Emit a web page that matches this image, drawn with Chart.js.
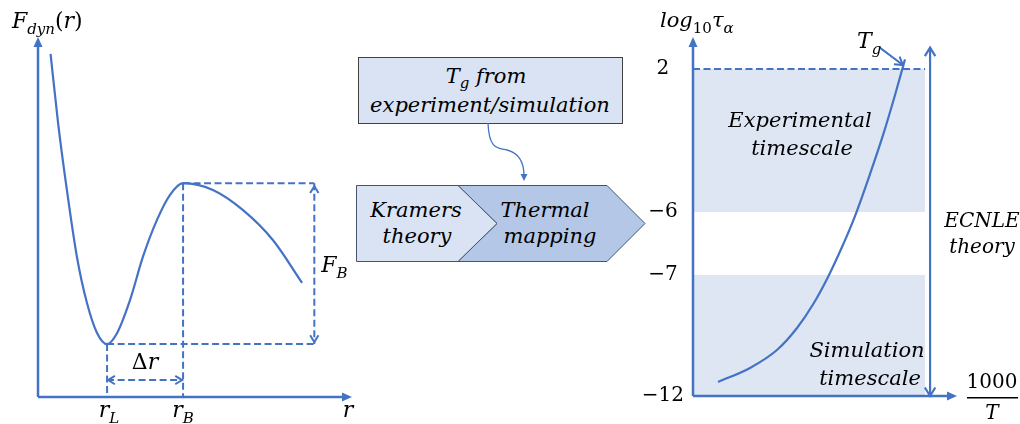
<!DOCTYPE html>
<html>
<head>
<meta charset="utf-8">
<script src="https://cdn.jsdelivr.net/npm/chart.js@4.4.1/dist/chart.umd.min.js"></script>
<style>
  html, body { margin: 0; padding: 0; background: #fff; }
  #wrap { position: relative; width: 1020px; height: 424px; overflow: hidden; }
  #wrap canvas, #wrap svg { position: absolute; top: 0; }
</style>
</head>
<body>
<div id="wrap">
  <svg width="1020" height="424" style="left:0" font-family="DejaVu Serif" font-style="italic" font-size="21">
    <!-- T_g source box -->
    <rect x="358.5" y="57.5" width="264" height="66" fill="#DAE3F3" stroke="#404040" stroke-width="1"/>
    <text x="486" y="83" text-anchor="middle">T<tspan font-size="15" dy="5">g</tspan><tspan dy="-5"> from</tspan></text>
    <text x="490" y="112" text-anchor="middle">experiment/simulation</text>
    <path d="M488,123 C489,150 498,148 507,150 C519,153 524,163 524,176" fill="none" stroke="#4472C4" stroke-width="1.3"/>
    <path d="M520.5,174 L524,181 L527.5,174 Z" fill="#4472C4"/>
    <!-- chevrons -->
    <polygon points="458,185.5 607,185.5 645,223.5 607,261.5 458,261.5 497,223.5" fill="#B4C7E7" stroke="#44546A" stroke-width="1"/>
    <polygon points="356.5,185.5 458,185.5 497,223.5 458,261.5 356.5,261.5" fill="#DAE3F3" stroke="#44546A" stroke-width="1"/>
    <text x="416" y="217" text-anchor="middle">Kramers</text>
    <text x="417" y="243" text-anchor="middle">theory</text>
    <text x="545" y="217" text-anchor="middle">Thermal</text>
    <text x="550" y="243" text-anchor="middle">mapping</text>
  </svg>
  <canvas id="left" width="360" height="424" style="left:0"></canvas>
  <canvas id="right" width="380" height="424" style="left:640px"></canvas>
</div>
<script>
// ---- left panel: dynamic free energy F_dyn(r), arbitrary units ----
const rValues = [0.40, 0.64, 0.92, 1.24, 1.56, 1.88, 2.20, 2.52, 2.93, 3.34, 3.79, 4.20, 4.62, 5.57, 6.53, 7.48, 8.41];
const fValues = [9.53, 7.61, 5.75, 3.89, 2.61, 1.78, 1.47, 1.78, 2.69, 3.89, 4.92, 5.61, 5.94, 5.75, 5.19, 4.36, 3.17];
const rL = 2.2, rB = 4.62;     // well minimum and barrier position
const fMin = 1.47, fMax = 5.94; // F at r_L and r_B
const fbArrowR = 8.8;           // where the F_B arrow sits
const drArrowF = 0.47;          // height of the delta r arrow

// ---- right panel: log10 tau_alpha vs 1000/T ----
const invT = [0.95, 2.16, 3.18, 3.94, 4.55, 5.11, 5.64, 6.14, 6.70, 7.20, 7.65, 8.03];
const logTau = [-11.42, -10.84, -10.10, -9.19, -8.21, -7.09, -6.56, -6.06, -3.90, -1.69, 0.53, 2.54];
const yTickValues = [-12, -7, -6, 2];
const yTickLabels = ['\u221212', '\u22127', '\u22126', '2'];
const logTauTop = 3.8;
const experimentalBand = [-6, 2];
const simulationBand = [-12, -7];
const bandEnd = 8.79;   // 1000/T where shading stops
const tgArrow = [[7.05, 3.23], [7.95, 2.22]];
const ecnleX = 8.98;

const BLUE = '#4472C4';
const FONT = '"DejaVu Serif"';

// schematic axis: the gaps between ticks are not to scale
class BrokenScale extends Chart.LinearScale {
  buildTicks() {
    return this.options.stopValues.slice(0, -1).map(v => ({ value: v }));
  }
  getPixelForValue(value) {
    const vals = this.options.stopValues, pos = this.options.stopPositions;
    let i = 0;
    while (i < vals.length - 2 && value > vals[i + 1]) i++;
    const t = (value - vals[i]) / (vals[i + 1] - vals[i]);
    return this.getPixelForDecimal(pos[i] + t * (pos[i + 1] - pos[i]));
  }
  getValueForPixel(pixel) {
    const vals = this.options.stopValues, pos = this.options.stopPositions;
    const d = this.getDecimalForPixel(pixel);
    let i = 0;
    while (i < pos.length - 2 && d > pos[i + 1]) i++;
    return vals[i] + (d - pos[i]) / (pos[i + 1] - pos[i]) * (vals[i + 1] - vals[i]);
  }
}
BrokenScale.id = 'broken';
BrokenScale.defaults = {};
Chart.register(BrokenScale);

// math-ish text: parts are [text, flags] with flags 'sub' and/or 'up' (upright)
function mathText(ctx, parts, x, y, align, size) {
  const fontFor = p => {
    const f = p[1] || '';
    const s = f.includes('sub') ? Math.round(size * 0.7) : size;
    return (f.includes('up') ? '' : 'italic ') + s + 'px ' + FONT;
  };
  let w = 0;
  parts.forEach(p => { ctx.font = fontFor(p); w += ctx.measureText(p[0]).width; });
  let cx = align === 'center' ? x - w / 2 : align === 'right' ? x - w : x;
  ctx.textAlign = 'left';
  ctx.textBaseline = 'alphabetic';
  parts.forEach(p => {
    ctx.font = fontFor(p);
    const dy = (p[1] || '').includes('sub') ? size * 0.27 : 0;
    ctx.fillText(p[0], cx, y + dy);
    cx += ctx.measureText(p[0]).width;
  });
}

function axisArrow(ctx, x1, y1, x2, y2) {
  const a = Math.atan2(y2 - y1, x2 - x1);
  ctx.beginPath(); ctx.moveTo(x1, y1);
  ctx.lineTo(x2 - 6 * Math.cos(a), y2 - 6 * Math.sin(a)); ctx.stroke();
  ctx.beginPath();
  ctx.moveTo(x2, y2);
  ctx.lineTo(x2 - 10 * Math.cos(a) + 4.5 * Math.sin(a), y2 - 10 * Math.sin(a) - 4.5 * Math.cos(a));
  ctx.lineTo(x2 - 10 * Math.cos(a) - 4.5 * Math.sin(a), y2 - 10 * Math.sin(a) + 4.5 * Math.cos(a));
  ctx.closePath(); ctx.fill();
}

function openHead(ctx, fx, fy, tx, ty, size) {
  const a = Math.atan2(ty - fy, tx - fx);
  ctx.setLineDash([]);
  ctx.beginPath();
  ctx.moveTo(tx - size * Math.cos(a - 0.55), ty - size * Math.sin(a - 0.55));
  ctx.lineTo(tx, ty);
  ctx.lineTo(tx - size * Math.cos(a + 0.55), ty - size * Math.sin(a + 0.55));
  ctx.stroke();
}

const pts = (xs, ys) => xs.map((x, i) => ({ x: x, y: ys[i] }));
const guide = (data) => ({
  data: data, borderColor: BLUE, borderWidth: 2, borderDash: [7, 3.5],
  pointRadius: 0, tension: 0, fill: false
});

const leftDecor = {
  id: 'leftDecor',
  afterDatasetsDraw(chart) {
    const { ctx, chartArea: a, scales: { x, y } } = chart;
    ctx.save();
    ctx.strokeStyle = BLUE; ctx.fillStyle = BLUE; ctx.lineWidth = 2.5;
    axisArrow(ctx, a.left, a.bottom, a.left, a.top);
    axisArrow(ctx, a.left, a.bottom, a.right, a.bottom);

    ctx.lineWidth = 2;
    const fbx = x.getPixelForValue(fbArrowR);
    const yTop = y.getPixelForValue(fMax), yBot = y.getPixelForValue(fMin);
    openHead(ctx, fbx, yBot, fbx, yTop + 3, 8);
    openHead(ctx, fbx, yTop, fbx, yBot - 2, 8);
    const dy = y.getPixelForValue(drArrowF);
    const xl = x.getPixelForValue(rL), xb = x.getPixelForValue(rB);
    openHead(ctx, xb, dy, xl + 1, dy, 8);
    openHead(ctx, xl, dy, xb - 1, dy, 8);

    ctx.fillStyle = '#000';
    mathText(ctx, [['F'], ['dyn', 'sub'], ['(', 'up'], ['r'], [')', 'up']], 12, 28, 'left', 22);
    mathText(ctx, [['r'], ['L', 'sub']], xl + 2, a.bottom + 20, 'center', 22);
    mathText(ctx, [['r'], ['B', 'sub']], xb, a.bottom + 20, 'center', 22);
    mathText(ctx, [['r']], a.right - 4, a.bottom + 20, 'center', 22);
    mathText(ctx, [['F'], ['B', 'sub']], fbx + 7, (yTop + yBot) / 2 + 8, 'left', 22);
    mathText(ctx, [['\u0394', 'up'], ['r']], (xl + xb) / 2, dy - 11, 'center', 22);
    ctx.restore();
  }
};

new Chart(document.getElementById('left'), {
  type: 'line',
  data: {
    datasets: [
      { data: pts(rValues, fValues), borderColor: BLUE, borderWidth: 2.2, pointRadius: 0,
        cubicInterpolationMode: 'monotone', fill: false },
      guide([{ x: rB, y: fMax }, { x: fbArrowR, y: fMax }]),
      guide([{ x: rL, y: fMin }, { x: fbArrowR, y: fMin }]),
      guide([{ x: rL, y: fMin }, { x: rL, y: 0 }]),
      guide([{ x: rB, y: fMax }, { x: rB, y: 0 }]),
      guide([{ x: fbArrowR, y: fMax }, { x: fbArrowR, y: fMin }]),
      guide([{ x: rL, y: drArrowF }, { x: rB, y: drArrowF }])
    ]
  },
  options: {
    responsive: false, animation: false, devicePixelRatio: 1, events: [],
    layout: { padding: { left: 38, right: 8, top: 37, bottom: 27 } },
    plugins: { legend: { display: false }, tooltip: { enabled: false } },
    scales: {
      x: { type: 'linear', min: 0, max: 10, display: false },
      y: { type: 'linear', min: 0, max: 10, display: false }
    }
  },
  plugins: [leftDecor]
});

const rightDecor = {
  id: 'rightDecor',
  beforeDatasetsDraw(chart) {
    const { ctx, scales: { x, y } } = chart;
    ctx.save();
    ctx.fillStyle = '#DEE6F3';
    const x0 = x.getPixelForValue(0), x1 = x.getPixelForValue(bandEnd);
    [experimentalBand, simulationBand].forEach(b => {
      const top = y.getPixelForValue(b[1]), bot = y.getPixelForValue(b[0]);
      ctx.fillRect(x0, top, x1 - x0, bot - top);
    });
    ctx.restore();
  },
  afterDatasetsDraw(chart) {
    const { ctx, chartArea: a, scales: { x, y } } = chart;
    ctx.save();
    ctx.strokeStyle = BLUE; ctx.fillStyle = BLUE; ctx.lineWidth = 2.5;
    axisArrow(ctx, a.left, a.bottom, a.left, a.top);
    axisArrow(ctx, a.left, a.bottom, a.right, a.bottom);

    // ECNLE range double arrow
    ctx.lineWidth = 2.2;
    const ex = x.getPixelForValue(ecnleX);
    const eTop = y.getPixelForValue(3.2), eBot = a.bottom;
    ctx.beginPath(); ctx.moveTo(ex, eTop); ctx.lineTo(ex, eBot); ctx.stroke();
    openHead(ctx, ex, eBot, ex, eTop, 10);
    openHead(ctx, ex, eTop, ex, eBot, 10);

    // T_g pointer
    const tx0 = x.getPixelForValue(tgArrow[0][0]), ty0 = y.getPixelForValue(tgArrow[0][1]);
    const tx1 = x.getPixelForValue(tgArrow[1][0]), ty1 = y.getPixelForValue(tgArrow[1][1]);
    ctx.lineWidth = 2;
    ctx.beginPath(); ctx.moveTo(tx0, ty0); ctx.lineTo(tx1, ty1); ctx.stroke();
    openHead(ctx, tx0, ty0, tx1, ty1, 9);

    ctx.fillStyle = '#000';
    mathText(ctx, [['T'], ['g', 'sub']], tx0 - 22, ty0 + 1, 'left', 22);
    mathText(ctx, [['log'], ['10', 'sub up'], ['\u03C4'], ['\u03B1', 'sub']], 20, 27, 'left', 21);

    ctx.font = 'italic 21px ' + FONT;
    ctx.textAlign = 'center';
    const bx = (x.getPixelForValue(0) + x.getPixelForValue(bandEnd)) / 2;
    ctx.fillText('Experimental', bx - 9, 127);
    ctx.fillText('timescale', bx - 7, 155);
    ctx.fillText('Simulation', bx + 58, 357);
    ctx.fillText('timescale', bx + 61, 385);
    ctx.font = 'italic 20px ' + FONT;
    ctx.fillText('ECNLE', 342, 227);
    ctx.fillText('theory', 342, 253);

    // 1000/T
    ctx.font = '20px ' + FONT;
    ctx.fillText('1000', 352, 388);
    ctx.fillRect(327, 397, 51, 1.5);
    ctx.font = 'italic 20px ' + FONT;
    ctx.fillText('T', 352, 419);
    ctx.restore();
  }
};

new Chart(document.getElementById('right'), {
  type: 'line',
  data: {
    datasets: [
      { data: pts(invT, logTau), borderColor: BLUE, borderWidth: 2.2, pointRadius: 0,
        cubicInterpolationMode: 'monotone', fill: false },
      guide([{ x: 0, y: 2 }, { x: bandEnd, y: 2 }])
    ]
  },
  options: {
    responsive: false, animation: false, devicePixelRatio: 1, events: [],
    layout: { padding: { left: 0, right: 63, top: 37, bottom: 28 } },
    plugins: { legend: { display: false }, tooltip: { enabled: false } },
    scales: {
      x: { type: 'linear', min: 0, max: 10, display: false },
      y: {
        type: 'broken', min: -12, max: logTauTop,
        stopValues: yTickValues.concat([logTauTop]),
        stopPositions: [0, 0.337, 0.5125, 0.911, 1],
        grid: { display: false, drawTicks: false },
        border: { display: false },
        ticks: {
          autoSkip: false, crossAlign: 'center', padding: 9, color: '#000',
          font: { family: 'DejaVu Serif', size: 20 },
          callback: (v) => yTickLabels[yTickValues.indexOf(v)]
        },
        afterFit: (scale) => { scale.width = 53; }
      }
    }
  },
  plugins: [rightDecor]
});
</script>
</body>
</html>
